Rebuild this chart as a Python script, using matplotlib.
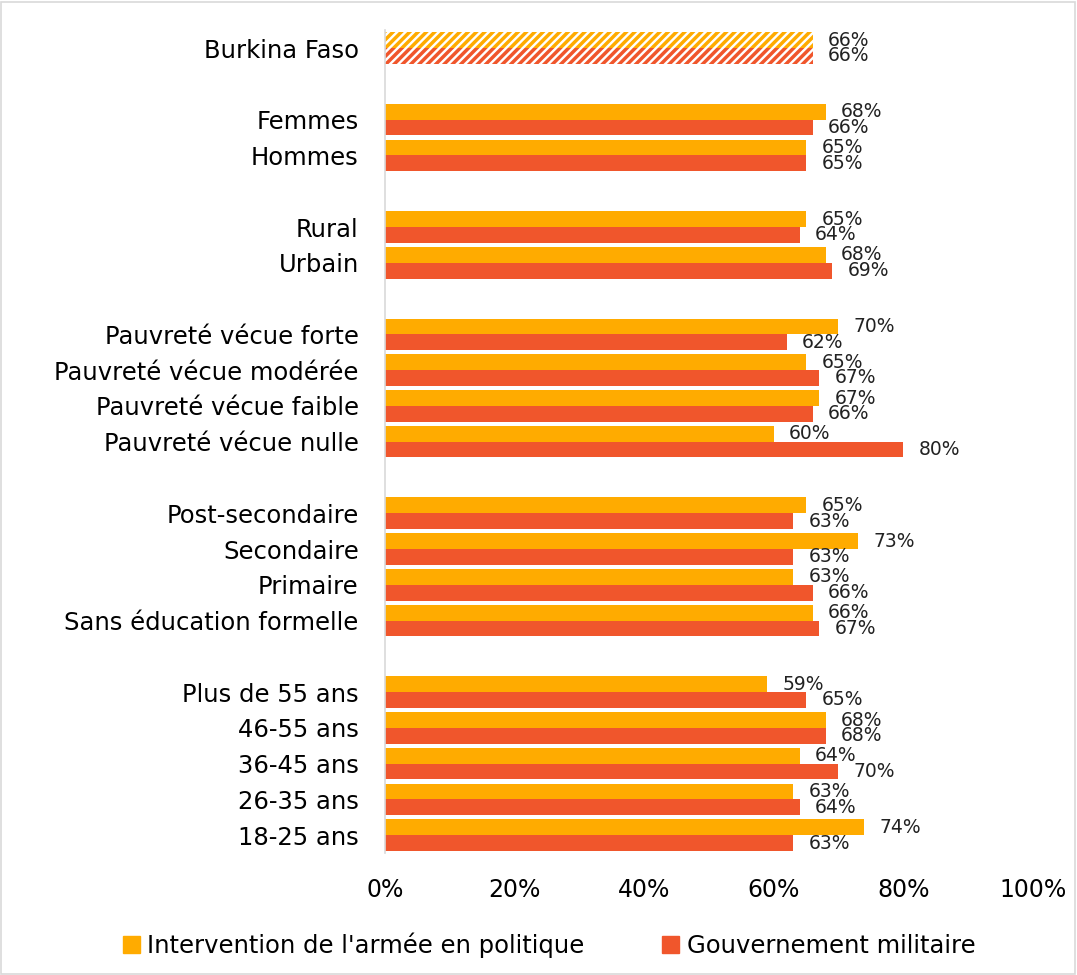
import matplotlib
matplotlib.use("Agg")
import matplotlib.pyplot as plt
from matplotlib.patches import Rectangle, Patch
import numpy as np

plt.rcParams['font.family'] = ['DejaVu Sans']
plt.rcParams['hatch.linewidth'] = 2.5

categories = ["Burkina Faso", None, "Femmes", "Hommes", None, "Rural", "Urbain", None,
              "Pauvreté vécue forte", "Pauvreté vécue modérée", "Pauvreté vécue faible",
              "Pauvreté vécue nulle", None, "Post-secondaire", "Secondaire", "Primaire",
              "Sans éducation formelle", None, "Plus de 55 ans", "46-55 ans", "36-45 ans",
              "26-35 ans", "18-25 ans"]
intervention = [66, None, 68, 65, None, 65, 68, None, 70, 65, 67, 60, None,
                65, 73, 63, 66, None, 59, 68, 64, 63, 74]
gouvernement = [66, None, 66, 65, None, 64, 69, None, 62, 67, 66, 80, None,
                63, 63, 66, 67, None, 65, 68, 70, 64, 63]
series_names = ["Intervention de l'armée en politique", "Gouvernement militaire"]
xticks = [0, 20, 40, 60, 80, 100]

c_orange = "#FFAB00"
c_red = "#F0562C"

fig = plt.figure(figsize=(10.77, 9.75), dpi=100)
ax = fig.add_axes([0.3575, 0.125, 0.6015, 0.844])

h = 0.44
for i, (cat, a, b) in enumerate(zip(categories, intervention, gouvernement)):
    if cat is None:
        continue
    hatched = (i == 0)
    for val, col, off in ((a, c_orange, -h / 2), (b, c_red, h / 2)):
        if hatched:
            ax.barh(i + off, val, height=h, color="white", edgecolor=col,
                    hatch="////", linewidth=0)
        else:
            ax.barh(i + off, val, height=h, color=col, linewidth=0)
        ax.annotate(f"{val}%", xy=(val, i + off), xytext=(11, 0),
                    textcoords="offset points", va="center", ha="left",
                    fontsize=13.5, color="#222222")

pos = [i for i, c in enumerate(categories) if c is not None]
ax.set_yticks(pos)
ax.set_yticklabels([c for c in categories if c is not None], fontsize=17.5)
ax.set_ylim(len(categories) - 0.5, -0.5)
ax.set_xlim(0, 100)
ax.set_xticks(xticks)
ax.set_xticklabels([f"{t}%" for t in xticks], fontsize=17)
ax.tick_params(axis='y', length=0, pad=19)
ax.tick_params(axis='x', length=0, pad=18)
for s in ["top", "right", "bottom"]:
    ax.spines[s].set_visible(False)
ax.spines["left"].set_color("#D9D9D9")
ax.spines["left"].set_linewidth(1.2)

handles = [Patch(color=c_orange), Patch(color=c_red)]
fig.legend(handles, series_names, loc="center", bbox_to_anchor=(0.51, 0.031),
           ncol=2, frameon=False, fontsize=17.5, handlelength=0.7, handleheight=0.7,
           handletextpad=0.3, columnspacing=3.2)

fig.patches.append(Rectangle((0.001, 0.001), 0.997, 0.997, transform=fig.transFigure,
                             fill=False, edgecolor="#D9D9D9", linewidth=1.2))

fig.savefig("out.png", dpi=100)
